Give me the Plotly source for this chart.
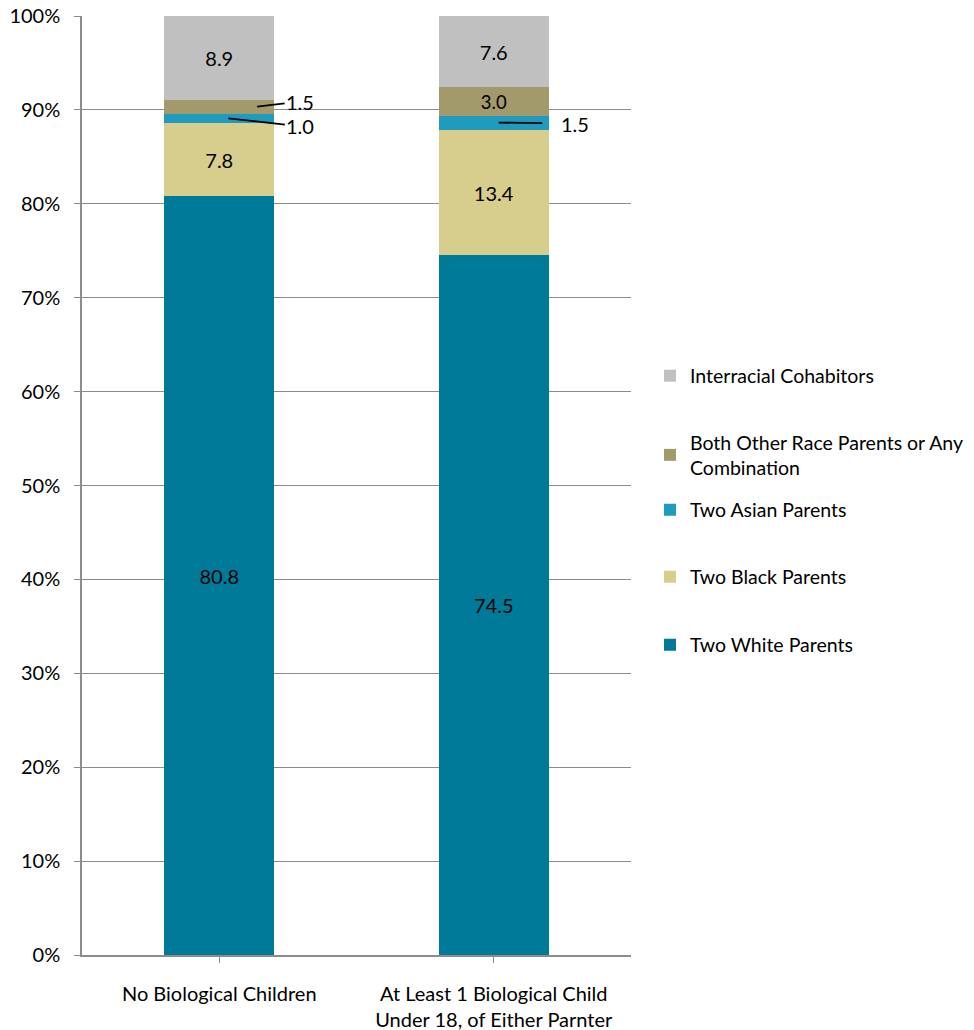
import plotly.graph_objects as go

categories = ["No Biological Children", "At Least 1 Biological Child<br>Under 18, of Either Parnter"]
series_names = ["Two White Parents", "Two Black Parents", "Two Asian Parents",
                "Both Other Race Parents or Any<br>Combination", "Interracial Cohabitors"]
white = [80.8, 74.5]
black = [7.8, 13.4]
asian = [1.0, 1.5]
other = [1.5, 3.0]
interracial = [8.9, 7.6]
colors = ["#007A99", "#D7CE8E", "#1F9BBD", "#A39A6C", "#C0C0C0"]

series = [white, black, asian, other, interracial]
FONT = "Lato"
FS = 20

# plot-area geometry (pixels)
L, R, T, B = 82, 343, 16, 75
W, H = 974, 1030
PH = H - T - B

# legend entry vertical centres (pixels) for each series, bottom to top
legend_centres = [645, 577, 510, 455, 376]
legend_x_px = 650

fig = go.Figure()
xs = [0, 1]
layout_legends = {}
for i, (name, vals, col) in enumerate(zip(series_names, series, colors)):
    txt = [f"{v:.1f}" if v >= 2 else "" for v in vals]
    lname = "legend" if i == 0 else f"legend{i+1}"
    fig.add_trace(go.Bar(
        x=xs, y=vals, name=name, marker_color=col, marker_line_width=0,
        text=txt, textposition="inside", insidetextanchor="middle",
        textfont=dict(color="black", size=FS, family=FONT),
        width=0.4, legend=lname, hoverinfo="skip"))
    layout_legends[lname] = dict(
        x=(legend_x_px - L) / (W - L - R), xanchor="left",
        y=(H - B - legend_centres[i]) / PH, yanchor="middle",
        font=dict(size=19.5, family=FONT, color="black"),
        itemwidth=30, bgcolor="rgba(0,0,0,0)")

# leader-line labels for small segments
small = [  # (series index, category index, x offset in category units, ax, ay, standoff)
    (3, 0, 0.138, 43, -5, 0),
    (2, 0, 0.033, 72, 8, 0),
    (2, 1, 0.018, 76, 1, 17),
]
for si, ci, dx, ax, ay, so in small:
    base = sum(series[k][ci] for k in range(si))
    v = series[si][ci]
    fig.add_annotation(
        x=xs[ci] + dx, y=base + v / 2, xref="x", yref="y",
        text=f"{v:.1f}", showarrow=True, arrowhead=0, arrowwidth=1.8,
        arrowcolor="black", ax=ax, ay=ay, startstandoff=so,
        font=dict(size=FS, color="black", family=FONT))

fig.update_layout(
    barmode="stack",
    width=W, height=H,
    margin=dict(l=L, r=R, t=T, b=B, autoexpand=False),
    plot_bgcolor="white", paper_bgcolor="white",
    font=dict(family=FONT, size=FS, color="black"),
    showlegend=True,
    xaxis=dict(tickmode="array", tickvals=xs, ticktext=categories,
               range=[-0.5, 1.5], showline=True, linecolor="#8C8C8C", linewidth=1.5,
               ticks="outside", tickson="boundaries", ticklen=6, tickcolor="#8C8C8C",
               ticklabelstandoff=14, showgrid=False, automargin=False),
    yaxis=dict(range=[0, 100], tickvals=list(range(0, 101, 10)),
               ticktext=[f"{v}%" for v in range(0, 101, 10)],
               showline=True, linecolor="#8C8C8C", linewidth=1.5,
               ticks="outside", ticklen=6, tickcolor="#8C8C8C", ticklabelstandoff=10,
               showgrid=True, gridcolor="#8C8C8C", gridwidth=1.2, zeroline=False,
               automargin=False),
    **layout_legends,
)
fig.write_html("out.html", config={"displayModeBar": False},
               post_script="document.body.style.margin='0';")
